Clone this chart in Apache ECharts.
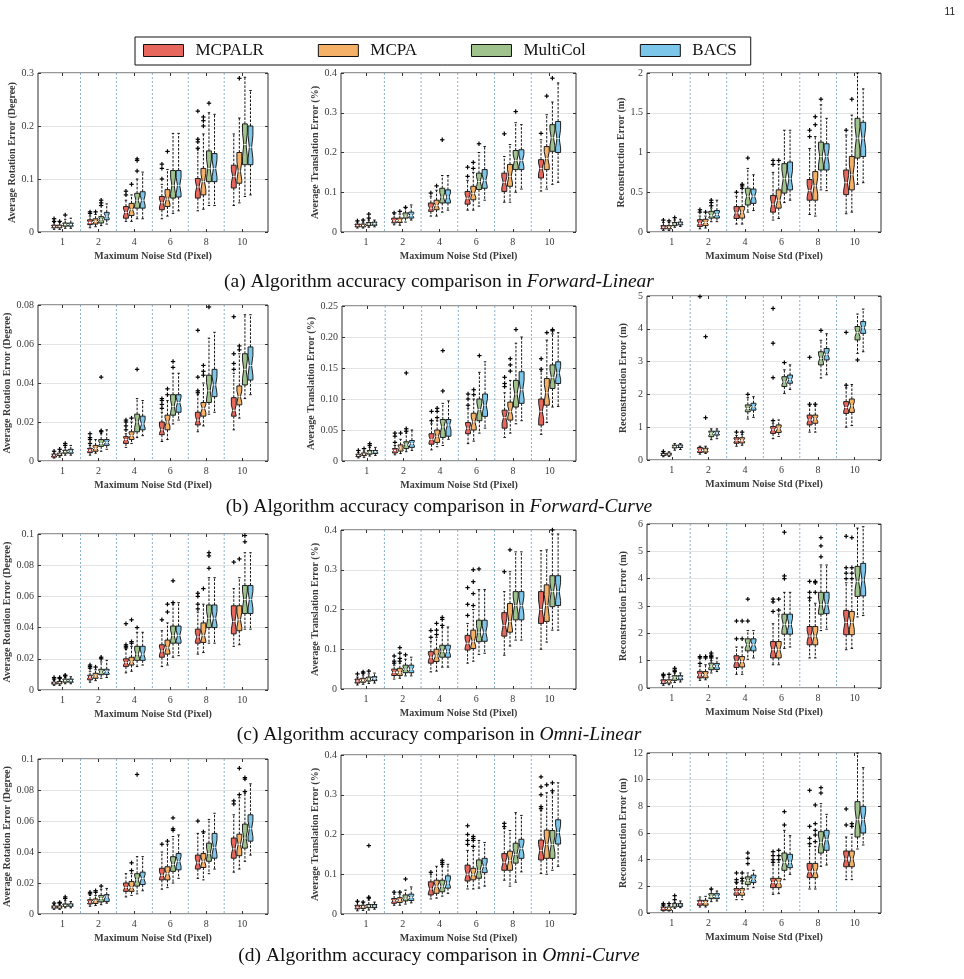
<!DOCTYPE html>
<html>
<head>
<meta charset="utf-8">
<script src="https://cdn.jsdelivr.net/npm/echarts@6/dist/echarts.min.js"></script>
<style>
  html, body { margin: 0; padding: 0; background: #fff; }
  #main { width: 964px; height: 979px; }
</style>
</head>
<body>
<div id="main"></div>
<script>
// categories
const groups = ['1', '2', '4', '6', '8', '10'];
const methods = ['MCPALR', 'MCPA', 'MultiCol', 'BACS'];
const scenes = ['Forward-Linear', 'Forward-Curve', 'Omni-Linear', 'Omni-Curve'];
const captionPrefix = ['(a)', '(b)', '(c)', '(d)'];

// box stats per group, per method: [lowWhisker, q1, median, q3, highWhisker]
// outliers: [groupIndex, methodIndex, value]

// (a) Forward-Linear
const flRot = [
  [[0.005, 0.008, 0.010, 0.013, 0.018], [0.005, 0.008, 0.010, 0.013, 0.018], [0.007, 0.011, 0.014, 0.017, 0.024], [0.007, 0.011, 0.014, 0.017, 0.026]],
  [[0.008, 0.014, 0.018, 0.023, 0.030], [0.010, 0.015, 0.020, 0.025, 0.033], [0.012, 0.017, 0.024, 0.029, 0.040], [0.015, 0.023, 0.030, 0.037, 0.053]],
  [[0.020, 0.026, 0.037, 0.048, 0.060], [0.020, 0.031, 0.042, 0.054, 0.070], [0.025, 0.045, 0.060, 0.073, 0.100], [0.025, 0.045, 0.060, 0.076, 0.113]],
  [[0.025, 0.042, 0.055, 0.067, 0.090], [0.030, 0.048, 0.062, 0.080, 0.118], [0.035, 0.064, 0.088, 0.116, 0.186], [0.040, 0.066, 0.088, 0.116, 0.186]],
  [[0.040, 0.064, 0.085, 0.101, 0.155], [0.043, 0.070, 0.095, 0.120, 0.185], [0.050, 0.095, 0.120, 0.153, 0.225], [0.050, 0.095, 0.120, 0.148, 0.222]],
  [[0.050, 0.083, 0.105, 0.126, 0.185], [0.055, 0.092, 0.115, 0.150, 0.215], [0.067, 0.127, 0.165, 0.204, 0.292], [0.070, 0.127, 0.160, 0.200, 0.267]]
];
const flRotOut = [[0,0,0.020],[0,0,0.025],[0,1,0.020],[0,2,0.032],[1,0,0.035],[1,0,0.038],[1,1,0.038],[1,2,0.050],[1,2,0.055],[1,2,0.060],
  [2,0,0.070],[2,0,0.077],[2,1,0.090],[2,2,0.115],[2,2,0.135],[2,2,0.138],[3,0,0.100],[3,0,0.120],[3,0,0.128],[3,1,0.152],
  [4,0,0.158],[4,0,0.170],[4,0,0.175],[4,0,0.228],[4,1,0.200],[4,1,0.210],[4,1,0.217],[4,2,0.243],[5,1,0.290]];

const flTrans = [
  [[0.010, 0.013, 0.016, 0.020, 0.025], [0.010, 0.013, 0.016, 0.020, 0.025], [0.012, 0.016, 0.020, 0.024, 0.030], [0.013, 0.017, 0.021, 0.025, 0.030]],
  [[0.018, 0.023, 0.028, 0.035, 0.045], [0.017, 0.024, 0.029, 0.035, 0.045], [0.025, 0.035, 0.040, 0.048, 0.060], [0.030, 0.035, 0.042, 0.050, 0.068]],
  [[0.040, 0.052, 0.060, 0.073, 0.090], [0.040, 0.056, 0.067, 0.080, 0.105], [0.050, 0.073, 0.088, 0.110, 0.142], [0.055, 0.073, 0.088, 0.106, 0.142]],
  [[0.055, 0.070, 0.085, 0.102, 0.130], [0.055, 0.081, 0.097, 0.115, 0.150], [0.065, 0.107, 0.127, 0.148, 0.200], [0.080, 0.110, 0.130, 0.157, 0.215]],
  [[0.075, 0.102, 0.125, 0.148, 0.190], [0.075, 0.115, 0.140, 0.170, 0.220], [0.100, 0.157, 0.180, 0.205, 0.275], [0.108, 0.157, 0.180, 0.207, 0.270]],
  [[0.103, 0.136, 0.160, 0.182, 0.232], [0.108, 0.157, 0.185, 0.215, 0.295], [0.120, 0.203, 0.237, 0.270, 0.327], [0.125, 0.200, 0.235, 0.278, 0.375]]
];
const flTransOut = [[0,0,0.028],[0,1,0.030],[0,2,0.035],[0,2,0.045],[1,0,0.048],[1,1,0.052],[1,2,0.062],[2,0,0.098],[2,1,0.116],[2,2,0.232],
  [3,0,0.140],[3,0,0.163],[3,1,0.160],[3,1,0.175],[3,2,0.222],[4,0,0.247],[4,2,0.303],[5,0,0.248],[5,1,0.342],[5,2,0.387]];

const flRecon = [
  [[0.02, 0.04, 0.06, 0.08, 0.12], [0.02, 0.04, 0.06, 0.08, 0.12], [0.06, 0.08, 0.10, 0.12, 0.15], [0.07, 0.09, 0.11, 0.125, 0.16]],
  [[0.04, 0.07, 0.11, 0.155, 0.20], [0.05, 0.08, 0.12, 0.16, 0.20], [0.13, 0.175, 0.21, 0.26, 0.30], [0.13, 0.175, 0.22, 0.27, 0.40]],
  [[0.10, 0.17, 0.24, 0.32, 0.45], [0.10, 0.175, 0.25, 0.32, 0.50], [0.25, 0.34, 0.45, 0.55, 0.80], [0.27, 0.36, 0.45, 0.54, 0.72]],
  [[0.15, 0.25, 0.35, 0.46, 0.75], [0.17, 0.30, 0.40, 0.53, 0.85], [0.37, 0.49, 0.67, 0.86, 1.28], [0.40, 0.53, 0.67, 0.88, 1.28]],
  [[0.22, 0.40, 0.52, 0.66, 1.05], [0.20, 0.40, 0.58, 0.76, 1.20], [0.53, 0.78, 0.95, 1.13, 1.60], [0.52, 0.78, 0.95, 1.11, 1.43]],
  [[0.23, 0.47, 0.62, 0.78, 1.22], [0.25, 0.53, 0.72, 0.95, 1.47], [0.60, 0.93, 1.18, 1.43, 2.00], [0.62, 0.95, 1.18, 1.38, 1.80]]
];
const flReconOut = [[0,0,0.15],[0,1,0.14],[0,2,0.18],[1,0,0.25],[1,0,0.28],[1,1,0.25],[1,2,0.33],[1,2,0.37],[1,2,0.40],[2,0,0.50],
  [2,1,0.55],[2,1,0.58],[2,1,0.60],[2,2,0.93],[3,0,0.85],[3,0,0.90],[3,1,0.90],[4,0,1.20],[4,0,1.28],[4,1,1.35],[4,1,1.45],[4,2,1.67],[5,0,1.28],[5,1,1.67]];

// (b) Forward-Curve
const fcRot = [
  [[0.0015, 0.002, 0.003, 0.0035, 0.004], [0.002, 0.0028, 0.0035, 0.004, 0.005], [0.003, 0.004, 0.0048, 0.0055, 0.007], [0.003, 0.004, 0.005, 0.006, 0.008]],
  [[0.003, 0.0043, 0.0055, 0.0065, 0.008], [0.004, 0.005, 0.0065, 0.008, 0.011], [0.005, 0.0075, 0.009, 0.011, 0.014], [0.006, 0.008, 0.0095, 0.011, 0.016]],
  [[0.007, 0.009, 0.011, 0.0125, 0.014], [0.009, 0.011, 0.013, 0.015, 0.020], [0.012, 0.015, 0.020, 0.024, 0.032], [0.013, 0.016, 0.019, 0.023, 0.031]],
  [[0.010, 0.0135, 0.016, 0.020, 0.025], [0.011, 0.016, 0.020, 0.0235, 0.031], [0.019, 0.0235, 0.028, 0.034, 0.045], [0.021, 0.025, 0.030, 0.034, 0.045]],
  [[0.015, 0.0185, 0.021, 0.025, 0.034], [0.018, 0.023, 0.027, 0.030, 0.040], [0.024, 0.030, 0.036, 0.044, 0.063], [0.025, 0.033, 0.039, 0.047, 0.066]],
  [[0.016, 0.023, 0.026, 0.0325, 0.045], [0.022, 0.0288, 0.033, 0.0385, 0.055], [0.032, 0.039, 0.047, 0.055, 0.075], [0.034, 0.0415, 0.049, 0.0585, 0.075]]
];
const fcRotOut = [[0,0,0.005],[0,1,0.006],[0,2,0.008],[0,2,0.009],[1,0,0.009],[1,0,0.011],[1,0,0.012],[1,0,0.014],[1,2,0.015],[1,2,0.0155],[1,2,0.043],
  [2,0,0.016],[2,0,0.018],[2,0,0.020],[2,0,0.021],[2,1,0.022],[2,2,0.047],[3,0,0.027],[3,0,0.029],[3,0,0.031],[3,0,0.032],[3,1,0.034],[3,1,0.037],
  [3,2,0.048],[3,2,0.051],[4,0,0.035],[4,0,0.036],[4,0,0.043],[4,0,0.067],[4,1,0.044],[4,1,0.046],[4,1,0.049],[4,2,0.079],
  [5,0,0.047],[5,0,0.050],[5,0,0.055],[5,0,0.074],[5,1,0.057],[5,1,0.059]];

const fcTrans = [
  [[0.005, 0.007, 0.009, 0.011, 0.014], [0.006, 0.009, 0.011, 0.013, 0.016], [0.008, 0.011, 0.014, 0.017, 0.022], [0.009, 0.012, 0.015, 0.017, 0.022]],
  [[0.010, 0.013, 0.017, 0.020, 0.025], [0.012, 0.016, 0.021, 0.026, 0.035], [0.015, 0.020, 0.026, 0.031, 0.045], [0.017, 0.022, 0.028, 0.033, 0.050]],
  [[0.018, 0.027, 0.035, 0.044, 0.060], [0.023, 0.030, 0.040, 0.050, 0.065], [0.025, 0.038, 0.055, 0.067, 0.093], [0.035, 0.040, 0.058, 0.067, 0.097]],
  [[0.028, 0.044, 0.053, 0.062, 0.085], [0.032, 0.050, 0.063, 0.077, 0.100], [0.045, 0.065, 0.083, 0.100, 0.143], [0.053, 0.072, 0.090, 0.108, 0.160]],
  [[0.038, 0.053, 0.070, 0.082, 0.110], [0.045, 0.066, 0.080, 0.095, 0.130], [0.060, 0.087, 0.108, 0.130, 0.190], [0.065, 0.093, 0.115, 0.144, 0.200]],
  [[0.043, 0.058, 0.080, 0.100, 0.145], [0.062, 0.090, 0.110, 0.133, 0.195], [0.087, 0.117, 0.135, 0.155, 0.205], [0.088, 0.125, 0.142, 0.160, 0.207]]
];
const fcTransOut = [[0,0,0.017],[0,1,0.020],[0,2,0.025],[0,2,0.028],[1,0,0.030],[1,0,0.040],[1,0,0.045],[1,1,0.045],[1,2,0.048],[1,2,0.052],[1,2,0.142],
  [2,0,0.065],[2,0,0.080],[2,1,0.070],[2,1,0.080],[2,1,0.085],[2,2,0.113],[2,2,0.178],[3,0,0.090],[3,0,0.100],[3,0,0.108],[3,1,0.107],[3,1,0.115],
  [3,2,0.170],[4,0,0.120],[4,0,0.125],[4,0,0.135],[4,1,0.145],[4,1,0.155],[4,1,0.165],[4,2,0.212],[5,0,0.148],[5,0,0.165],[5,1,0.207],[5,2,0.210],[5,2,0.212]];

const fcRecon = [
  [[0.10, 0.14, 0.17, 0.20, 0.24], [0.11, 0.15, 0.18, 0.21, 0.25], [0.30, 0.37, 0.41, 0.45, 0.50], [0.32, 0.38, 0.42, 0.46, 0.50]],
  [[0.18, 0.23, 0.30, 0.38, 0.42], [0.20, 0.24, 0.30, 0.36, 0.42], [0.62, 0.71, 0.80, 0.88, 0.95], [0.65, 0.76, 0.82, 0.88, 0.95]],
  [[0.42, 0.51, 0.60, 0.68, 0.75], [0.45, 0.52, 0.60, 0.68, 0.78], [1.25, 1.47, 1.57, 1.68, 1.90], [1.30, 1.52, 1.62, 1.73, 1.93]],
  [[0.65, 0.81, 0.92, 1.02, 1.12], [0.72, 0.84, 0.95, 1.07, 1.22], [2.03, 2.24, 2.38, 2.54, 2.75], [2.15, 2.34, 2.45, 2.59, 2.90]],
  [[0.85, 1.07, 1.22, 1.37, 1.65], [0.85, 1.12, 1.25, 1.37, 1.65], [2.50, 2.90, 3.10, 3.30, 3.65], [2.60, 3.05, 3.22, 3.40, 3.85]],
  [[1.00, 1.42, 1.60, 1.78, 2.20], [1.05, 1.45, 1.65, 1.86, 2.30], [3.25, 3.66, 3.88, 4.07, 4.45], [3.30, 3.86, 4.03, 4.22, 4.60]]
];
const fcReconOut = [[0,0,0.26],[1,0,4.98],[1,1,3.76],[1,1,1.29],[2,0,0.85],[2,1,0.85],[2,2,2.0],[3,0,1.20],[3,0,2.51],[3,0,3.56],[3,0,4.62],
  [3,2,2.97],[4,0,1.70],[4,0,3.13],[4,1,1.70],[4,2,3.95],[5,0,2.28],[5,0,3.89],[5,2,3.05]];

// (c) Omni-Linear
const olRot = [
  [[0.003, 0.0038, 0.0045, 0.005, 0.006], [0.003, 0.004, 0.0047, 0.0055, 0.0065], [0.004, 0.005, 0.006, 0.007, 0.008], [0.004, 0.005, 0.006, 0.007, 0.0085]],
  [[0.005, 0.0065, 0.0083, 0.0095, 0.012], [0.006, 0.0075, 0.009, 0.0107, 0.013], [0.0075, 0.0098, 0.0115, 0.0133, 0.018], [0.008, 0.010, 0.0117, 0.0133, 0.019]],
  [[0.011, 0.015, 0.0175, 0.020, 0.026], [0.012, 0.016, 0.018, 0.021, 0.028], [0.015, 0.019, 0.023, 0.028, 0.037], [0.016, 0.019, 0.023, 0.028, 0.037]],
  [[0.015, 0.021, 0.025, 0.029, 0.038], [0.016, 0.023, 0.027, 0.032, 0.043], [0.021, 0.030, 0.035, 0.041, 0.055], [0.022, 0.030, 0.035, 0.041, 0.056]],
  [[0.023, 0.030, 0.034, 0.039, 0.050], [0.024, 0.0305, 0.035, 0.043, 0.055], [0.030, 0.040, 0.046, 0.0545, 0.072], [0.030, 0.040, 0.046, 0.0545, 0.072]],
  [[0.028, 0.036, 0.044, 0.054, 0.065], [0.029, 0.038, 0.045, 0.054, 0.072], [0.039, 0.049, 0.058, 0.067, 0.088], [0.039, 0.049, 0.058, 0.067, 0.088]]
];
const olRotOut = [[0,0,0.007],[0,0,0.008],[0,1,0.0075],[0,1,0.008],[0,2,0.009],[0,2,0.0095],[1,0,0.014],[1,0,0.015],[1,0,0.016],[1,1,0.0147],
  [1,2,0.020],[1,2,0.021],[2,0,0.027],[2,0,0.028],[2,0,0.029],[2,0,0.0425],[2,1,0.030],[2,1,0.031],[2,1,0.045],[2,2,0.040],
  [3,0,0.045],[3,1,0.050],[3,1,0.055],[3,2,0.056],[3,2,0.070],[4,0,0.052],[4,0,0.055],[4,0,0.060],[4,0,0.062],[4,1,0.065],
  [4,2,0.078],[4,2,0.086],[4,2,0.088],[5,0,0.082],[5,1,0.084],[5,2,0.095],[5,2,0.099]];

const olTrans = [
  [[0.010, 0.015, 0.020, 0.025, 0.030], [0.012, 0.017, 0.022, 0.027, 0.035], [0.014, 0.020, 0.025, 0.030, 0.038], [0.015, 0.021, 0.026, 0.031, 0.040]],
  [[0.025, 0.034, 0.042, 0.050, 0.060], [0.027, 0.034, 0.042, 0.052, 0.065], [0.033, 0.041, 0.050, 0.060, 0.075], [0.033, 0.041, 0.050, 0.060, 0.080]],
  [[0.043, 0.065, 0.080, 0.094, 0.120], [0.045, 0.069, 0.083, 0.100, 0.130], [0.055, 0.080, 0.095, 0.110, 0.155], [0.055, 0.080, 0.095, 0.110, 0.156]],
  [[0.065, 0.098, 0.115, 0.135, 0.165], [0.070, 0.102, 0.120, 0.148, 0.200], [0.087, 0.119, 0.143, 0.173, 0.250], [0.090, 0.120, 0.143, 0.173, 0.250]],
  [[0.085, 0.133, 0.160, 0.192, 0.245], [0.108, 0.143, 0.170, 0.215, 0.295], [0.123, 0.174, 0.210, 0.245, 0.345], [0.123, 0.174, 0.210, 0.245, 0.345]],
  [[0.100, 0.165, 0.200, 0.245, 0.348], [0.118, 0.170, 0.210, 0.262, 0.350], [0.148, 0.207, 0.245, 0.285, 0.390], [0.148, 0.210, 0.245, 0.285, 0.390]]
];
const olTransOut = [[0,0,0.038],[0,1,0.040],[0,1,0.043],[0,2,0.045],[1,0,0.065],[1,0,0.070],[1,0,0.083],[1,1,0.070],[1,1,0.077],[1,1,0.090],[1,1,0.104],
  [1,2,0.086],[2,0,0.130],[2,0,0.147],[2,1,0.137],[2,1,0.148],[2,1,0.165],[2,2,0.160],[2,2,0.175],[2,2,0.180],[3,0,0.185],[3,0,0.213],[3,0,0.255],
  [3,1,0.210],[3,1,0.240],[3,1,0.270],[3,1,0.300],[3,2,0.302],[4,0,0.295],[4,1,0.350],[5,2,0.400]];

const olRecon = [
  [[0.10, 0.16, 0.22, 0.30, 0.40], [0.12, 0.18, 0.23, 0.30, 0.40], [0.20, 0.28, 0.37, 0.45, 0.55], [0.22, 0.30, 0.38, 0.45, 0.55]],
  [[0.28, 0.37, 0.48, 0.61, 0.80], [0.30, 0.37, 0.48, 0.60, 0.85], [0.55, 0.67, 0.80, 0.91, 1.00], [0.60, 0.68, 0.80, 0.90, 1.10]],
  [[0.50, 0.75, 0.97, 1.18, 1.50], [0.50, 0.77, 0.97, 1.15, 1.50], [1.05, 1.36, 1.58, 1.80, 2.10], [1.10, 1.36, 1.58, 1.80, 2.10]],
  [[0.85, 1.10, 1.40, 1.70, 2.35], [0.85, 1.10, 1.40, 1.70, 2.70], [1.45, 1.97, 2.33, 2.70, 3.50], [1.50, 1.97, 2.33, 2.70, 3.50]],
  [[1.10, 1.58, 1.90, 2.25, 3.20], [1.10, 1.58, 1.90, 2.25, 3.10], [2.10, 2.70, 3.05, 3.50, 4.50], [2.15, 2.72, 3.05, 3.50, 4.50]],
  [[1.40, 1.95, 2.40, 2.84, 3.85], [1.45, 1.95, 2.40, 2.80, 3.85], [2.60, 3.35, 3.90, 4.45, 5.85], [2.65, 3.37, 3.95, 4.56, 5.90]]
];
const olReconOut = [[0,0,0.45],[0,0,0.50],[0,1,0.50],[0,2,0.60],[0,2,0.65],[0,2,0.72],[1,0,0.90],[1,0,1.10],[1,0,1.15],[1,1,1.10],[1,1,1.15],
  [1,2,1.10],[1,2,1.15],[1,2,1.20],[1,2,1.28],[2,0,1.80],[2,0,2.45],[2,1,1.80],[2,1,2.45],[2,2,2.45],[2,2,3.25],[3,0,2.80],[3,0,3.15],[3,0,3.25],
  [3,1,2.85],[3,1,3.25],[3,2,4.00],[3,2,4.10],[3,2,5.70],[4,0,3.30],[4,0,3.50],[4,0,3.90],[4,1,3.50],[4,1,3.85],[4,1,3.90],[4,2,4.80],[4,2,5.20],
  [4,2,5.50],[5,0,4.00],[5,0,4.20],[5,0,4.40],[5,0,5.55],[5,1,4.00],[5,1,4.20],[5,1,4.40],[5,1,5.50]];

// (d) Omni-Curve
const ocRot = [
  [[0.003, 0.0038, 0.0045, 0.0052, 0.006], [0.003, 0.0038, 0.0045, 0.0052, 0.006], [0.004, 0.005, 0.0055, 0.0065, 0.0085], [0.004, 0.005, 0.0058, 0.0065, 0.008]],
  [[0.005, 0.0065, 0.0078, 0.0092, 0.012], [0.0055, 0.0068, 0.0085, 0.0097, 0.012], [0.006, 0.0078, 0.010, 0.012, 0.016], [0.007, 0.008, 0.011, 0.0125, 0.0165]],
  [[0.011, 0.0146, 0.017, 0.020, 0.026], [0.012, 0.0146, 0.017, 0.021, 0.026], [0.013, 0.018, 0.022, 0.026, 0.037], [0.015, 0.019, 0.023, 0.027, 0.037]],
  [[0.016, 0.022, 0.025, 0.0295, 0.040], [0.017, 0.022, 0.026, 0.0305, 0.045], [0.020, 0.0275, 0.032, 0.037, 0.050], [0.023, 0.0285, 0.034, 0.039, 0.051]],
  [[0.023, 0.029, 0.033, 0.038, 0.052], [0.022, 0.030, 0.034, 0.039, 0.052], [0.026, 0.034, 0.039, 0.0457, 0.061], [0.029, 0.036, 0.043, 0.052, 0.065]],
  [[0.027, 0.036, 0.042, 0.049, 0.064], [0.029, 0.0376, 0.045, 0.0515, 0.075], [0.034, 0.0425, 0.049, 0.058, 0.078], [0.038, 0.047, 0.055, 0.064, 0.084]]
];
const ocRotOut = [[0,0,0.007],[0,1,0.007],[0,1,0.0075],[0,2,0.010],[0,2,0.011],[1,0,0.013],[1,0,0.014],[1,1,0.014],[1,1,0.015],[1,2,0.018],
  [2,1,0.028],[2,1,0.033],[2,2,0.090],[3,0,0.045],[3,1,0.047],[3,2,0.054],[3,2,0.055],[3,2,0.062],[4,0,0.060],[4,1,0.053],
  [5,0,0.071],[5,0,0.073],[5,1,0.077],[5,1,0.094],[5,2,0.079],[5,2,0.087],[5,2,0.088]];

const ocTrans = [
  [[0.008, 0.013, 0.017, 0.022, 0.030], [0.009, 0.014, 0.018, 0.022, 0.028], [0.010, 0.016, 0.020, 0.024, 0.035], [0.012, 0.016, 0.020, 0.024, 0.030]],
  [[0.022, 0.027, 0.033, 0.039, 0.050], [0.022, 0.029, 0.035, 0.041, 0.050], [0.025, 0.033, 0.040, 0.048, 0.060], [0.028, 0.034, 0.042, 0.050, 0.068]],
  [[0.038, 0.048, 0.063, 0.081, 0.100], [0.040, 0.052, 0.070, 0.085, 0.120], [0.045, 0.056, 0.070, 0.085, 0.120], [0.052, 0.065, 0.078, 0.096, 0.125]],
  [[0.063, 0.083, 0.100, 0.123, 0.160], [0.063, 0.086, 0.100, 0.115, 0.160], [0.065, 0.090, 0.110, 0.136, 0.185], [0.070, 0.104, 0.120, 0.140, 0.180]],
  [[0.085, 0.110, 0.130, 0.152, 0.215], [0.070, 0.110, 0.135, 0.158, 0.210], [0.080, 0.128, 0.150, 0.178, 0.255], [0.106, 0.140, 0.165, 0.188, 0.248]],
  [[0.102, 0.136, 0.160, 0.186, 0.260], [0.100, 0.140, 0.175, 0.211, 0.305], [0.110, 0.140, 0.175, 0.210, 0.305], [0.120, 0.176, 0.205, 0.237, 0.330]]
];
const ocTransOut = [[0,0,0.032],[0,1,0.030],[0,2,0.040],[0,2,0.042],[0,2,0.172],[1,0,0.055],[1,1,0.055],[1,2,0.088],[2,0,0.105],[2,2,0.125],
  [2,2,0.130],[2,2,0.135],[3,0,0.175],[3,0,0.185],[3,0,0.200],[3,0,0.222],[3,1,0.170],[3,1,0.185],[3,1,0.190],[3,1,0.195],[4,0,0.220],[4,0,0.228],
  [5,0,0.265],[5,0,0.270],[5,0,0.300],[5,0,0.320],[5,0,0.345],[5,1,0.325],[5,2,0.310],[5,2,0.330]];

const ocRecon = [
  [[0.15, 0.20, 0.35, 0.45, 0.55], [0.15, 0.20, 0.35, 0.45, 0.55], [0.35, 0.45, 0.60, 0.70, 0.80], [0.40, 0.50, 0.60, 0.70, 0.90]],
  [[0.45, 0.58, 0.80, 0.95, 1.20], [0.45, 0.58, 0.80, 0.95, 1.25], [0.85, 1.08, 1.25, 1.45, 1.75], [0.90, 1.08, 1.25, 1.45, 1.65]],
  [[1.00, 1.33, 1.60, 1.83, 2.20], [1.00, 1.33, 1.60, 1.83, 2.20], [1.80, 2.13, 2.45, 2.71, 3.00], [1.90, 2.28, 2.55, 2.84, 3.20]],
  [[1.40, 1.90, 2.30, 2.60, 3.60], [1.45, 1.90, 2.30, 2.60, 3.80], [2.50, 3.20, 3.80, 4.50, 6.20], [2.90, 3.40, 3.80, 4.40, 5.80]],
  [[1.80, 2.65, 3.10, 3.72, 5.00], [1.80, 2.65, 3.10, 3.72, 5.00], [3.50, 4.50, 5.30, 6.10, 8.20], [3.60, 4.70, 5.50, 6.20, 7.40]],
  [[2.50, 3.47, 4.05, 4.65, 5.70], [2.50, 3.47, 4.05, 4.65, 5.90], [4.80, 5.70, 7.00, 8.35, 12.0], [5.10, 6.00, 7.00, 8.00, 10.9]]
];
const ocReconOut = [[0,0,0.60],[0,0,0.70],[0,1,0.70],[0,2,1.00],[0,2,1.30],[1,2,1.80],[2,0,2.30],[2,0,2.50],[2,0,3.00],[2,1,2.40],[2,1,2.60],[2,1,3.00],
  [2,2,3.70],[2,2,4.10],[2,2,4.50],[3,0,3.80],[3,0,4.00],[3,0,4.30],[3,0,4.60],[3,1,4.00],[3,1,4.30],[3,1,4.70],[3,2,6.60],[3,2,7.60],
  [4,0,5.20],[4,0,5.60],[4,0,6.50],[4,0,9.20],[4,1,5.35],[4,1,5.85],[4,1,6.20],[4,1,6.70],[4,1,8.10],[4,2,9.00],[4,2,9.40],
  [5,0,6.60],[5,0,7.80],[5,1,6.50],[5,1,6.70]];

// axis titles and y ranges per row/column
const yTitles = ['Average Rotation Error (Degree)', 'Average Translation Error (%)', 'Reconstruction Error (m)'];
const xTitle = 'Maximum Noise Std (Pixel)';
const yMax = [[0.3, 0.4, 2], [0.08, 0.25, 5], [0.1, 0.4, 6], [0.1, 0.4, 12]];
const yStep = [[0.1, 0.1, 0.5], [0.02, 0.05, 1], [0.02, 0.1, 1], [0.02, 0.1, 2]];

const boxes = [[flRot, flTrans, flRecon], [fcRot, fcTrans, fcRecon], [olRot, olTrans, olRecon], [ocRot, ocTrans, ocRecon]];
const outliers = [[flRotOut, flTransOut, flReconOut], [fcRotOut, fcTransOut, fcReconOut], [olRotOut, olTransOut, olReconOut], [ocRotOut, ocTransOut, ocReconOut]];

// layout (pixels): [left, top, width, height]
const rects = [
  [[38, 73, 230, 159], [341, 73, 235, 159], [647, 73, 234, 159]],
  [[38, 305, 230, 156], [342, 306, 234, 155], [647, 296, 234, 164]],
  [[38, 534, 230, 156], [341, 530, 235, 159], [647, 524, 234, 164]],
  [[38, 759, 230, 155], [341, 755, 235, 159], [647, 753, 234, 160]]
];
const yNameGap = [21, 19, 19];
const captionY = [282, 507, 735, 956];

const colors = ['#e8675d', '#f4b167', '#a0c38d', '#7cc6ea'];
const X_MIN = -0.68, X_MAX = 5.72;
const BOX_STEP = 0.155, BOX_W = 0.135;
const SERIF = 'Liberation Serif';
const tickIdx = groups.map((_, i) => i);
const sepPos = groups.slice(1).map((_, i) => [i + 0.5]);

const chart = echarts.init(document.getElementById('main'));

// notched box with dashed whiskers
function boxRenderer(a) {
  return function (params, api) {
    const x = api.value(0) + (a - 1.5) * BOX_STEP;
    const lo = api.value(1), q1 = api.value(2), med = api.value(3), q3 = api.value(4), hi = api.value(5);
    const w = api.size([BOX_W, 0])[0];
    const cx = api.coord([x, 0])[0];
    const y = v => api.coord([x, v])[1];
    const nh = (q3 - q1) * 0.3;
    const nTop = y(Math.min(med + nh, q3)), nBot = y(Math.max(med - nh, q1)), yMed = y(med);
    const xl = cx - w / 2, xr = cx + w / 2, inset = w * 0.27;
    const pts = [[xl, y(q1)], [xl, nBot], [xl + inset, yMed], [xl, nTop], [xl, y(q3)],
      [xr, y(q3)], [xr, nTop], [xr - inset, yMed], [xr, nBot], [xr, y(q1)]];
    const dash = { stroke: '#111', lineWidth: 1, lineDash: [2.5, 1.5] };
    const cap = { stroke: '#111', lineWidth: 1 };
    return {
      type: 'group',
      children: [
        { type: 'line', shape: { x1: cx, y1: y(q3), x2: cx, y2: y(hi) }, style: dash },
        { type: 'line', shape: { x1: cx, y1: y(q1), x2: cx, y2: y(lo) }, style: dash },
        { type: 'line', shape: { x1: cx - w * 0.25, y1: y(hi), x2: cx + w * 0.25, y2: y(hi) }, style: cap },
        { type: 'line', shape: { x1: cx - w * 0.25, y1: y(lo), x2: cx + w * 0.25, y2: y(lo) }, style: cap },
        { type: 'polygon', shape: { points: pts }, style: { fill: api.visual('color'), stroke: '#1e1e1e', lineWidth: 1 } },
        { type: 'line', shape: { x1: xl + inset, y1: yMed, x2: xr - inset, y2: yMed }, style: { stroke: '#fff', lineWidth: 1 } }
      ]
    };
  };
}

// '+' outlier marker
function outlierRenderer(params, api) {
  const x = api.value(0) + (api.value(1) - 1.5) * BOX_STEP;
  const p = api.coord([x, api.value(2)]);
  const s = 2.2;
  const st = { stroke: '#000', lineWidth: 1.2 };
  return {
    type: 'group',
    children: [
      { type: 'line', shape: { x1: p[0] - s, y1: p[1], x2: p[0] + s, y2: p[1] }, style: st },
      { type: 'line', shape: { x1: p[0], y1: p[1] - s, x2: p[0], y2: p[1] + s }, style: st }
    ]
  };
}

const grid = [], xAxis = [], yAxis = [], series = [];
const axisFont = { fontFamily: SERIF, fontSize: 10, color: '#3a3a3a' };
const nameFont = { fontFamily: SERIF, fontSize: 10, fontWeight: 'bold', color: '#3a3a3a' };
const tickStyle = { color: '#333', width: 1 };
const noLine = { show: false, onZero: false };

boxes.forEach((row, r) => {
  row.forEach((stats, c) => {
    const i = grid.length;
    const [left, top, width, height] = rects[r][c];
    const max = yMax[r][c], step = yStep[r][c];
    grid.push({ left, top, width, height, show: true, borderColor: '#2e2e2e', borderWidth: 1 });
    xAxis.push({
      gridIndex: i, type: 'value', min: X_MIN, max: X_MAX, position: 'bottom',
      name: xTitle, nameLocation: 'middle', nameGap: 19, nameTextStyle: nameFont,
      axisLine: noLine,
      axisTick: { show: true, inside: true, length: 3, customValues: tickIdx, lineStyle: tickStyle },
      axisLabel: { customValues: tickIdx, formatter: v => groups[Math.round(v)], margin: 5, ...axisFont },
      splitLine: { show: false }
    });
    xAxis.push({
      gridIndex: i, type: 'value', position: 'top', min: X_MIN, max: X_MAX,
      axisLine: noLine,
      axisTick: { show: true, inside: true, length: 3, customValues: tickIdx, lineStyle: tickStyle },
      axisLabel: { show: false }, splitLine: { show: false }
    });
    yAxis.push({
      gridIndex: i, type: 'value', position: 'left', min: 0, max, interval: step,
      name: yTitles[c], nameLocation: 'middle', nameGap: yNameGap[c], nameTextStyle: nameFont,
      axisLine: noLine,
      axisTick: { show: true, inside: true, length: 3, lineStyle: tickStyle },
      axisLabel: {
        margin: 4, ...axisFont,
        formatter: step === 0.05 ? (v => (v === 0 ? '0' : v.toFixed(2))) : (v => String(+v.toFixed(4)))
      },
      splitLine: { show: true, lineStyle: { color: '#e4e4e4', width: 1 } }
    });
    yAxis.push({
      gridIndex: i, type: 'value', position: 'right', min: 0, max, interval: step,
      axisLine: noLine,
      axisTick: { show: true, inside: true, length: 3, lineStyle: tickStyle },
      axisLabel: { show: false }, splitLine: { show: false }
    });

    // group separators
    series.push({
      type: 'custom', xAxisIndex: 2 * i, yAxisIndex: 2 * i, silent: true, z: 1,
      data: sepPos,
      renderItem: (params, api) => {
        const x = api.value(0);
        const t = api.coord([x, max]), b = api.coord([x, 0]);
        return { type: 'line', shape: { x1: t[0], y1: t[1], x2: b[0], y2: b[1] },
          style: { stroke: '#6f9fc0', lineWidth: 0.8, lineDash: [2, 2] } };
      }
    });

    methods.forEach((m, a) => {
      series.push({
        type: 'custom', name: m, xAxisIndex: 2 * i, yAxisIndex: 2 * i, z: 3, silent: true,
        itemStyle: { color: colors[a] },
        encode: { x: 0, y: [1, 2, 3, 4, 5] },
        data: stats.map((g, gi) => [gi, ...g[a]]),
        renderItem: boxRenderer(a)
      });
    });

    series.push({
      type: 'custom', xAxisIndex: 2 * i, yAxisIndex: 2 * i, z: 4, silent: true,
      encode: { x: 0, y: 2 },
      data: outliers[r][c],
      renderItem: outlierRenderer
    });
  });
});

const graphic = scenes.map((s, k) => ({
  type: 'text', x: 439, y: captionY[k],
  style: {
    text: '{n|' + captionPrefix[k] + ' Algorithm accuracy comparison in }{i|' + s + '}',
    align: 'center', verticalAlign: 'middle',
    rich: {
      n: { fontFamily: SERIF, fontSize: 19.5, fill: '#111' },
      i: { fontFamily: SERIF, fontSize: 19.5, fontStyle: 'italic', fill: '#111' }
    }
  }
}));
graphic.push({
  type: 'text', x: 955, y: 12,
  style: { text: '11', align: 'right', verticalAlign: 'middle', fontFamily: 'Liberation Sans', fontSize: 10, fill: '#222' }
});

chart.setOption({
  animation: false,
  backgroundColor: '#fff',
  legend: {
    data: methods, left: 135, top: 37, selectedMode: false,
    itemWidth: 40, itemHeight: 12, itemGap: 54, icon: 'rect',
    padding: [5, 14, 6, 8],
    borderColor: '#111', borderWidth: 1,
    itemStyle: { borderColor: '#111', borderWidth: 1 },
    textStyle: { fontFamily: SERIF, fontSize: 17, color: '#111', padding: [0, 0, 0, 7] }
  },
  grid, xAxis, yAxis, series, graphic
});
</script>
</body>
</html>
